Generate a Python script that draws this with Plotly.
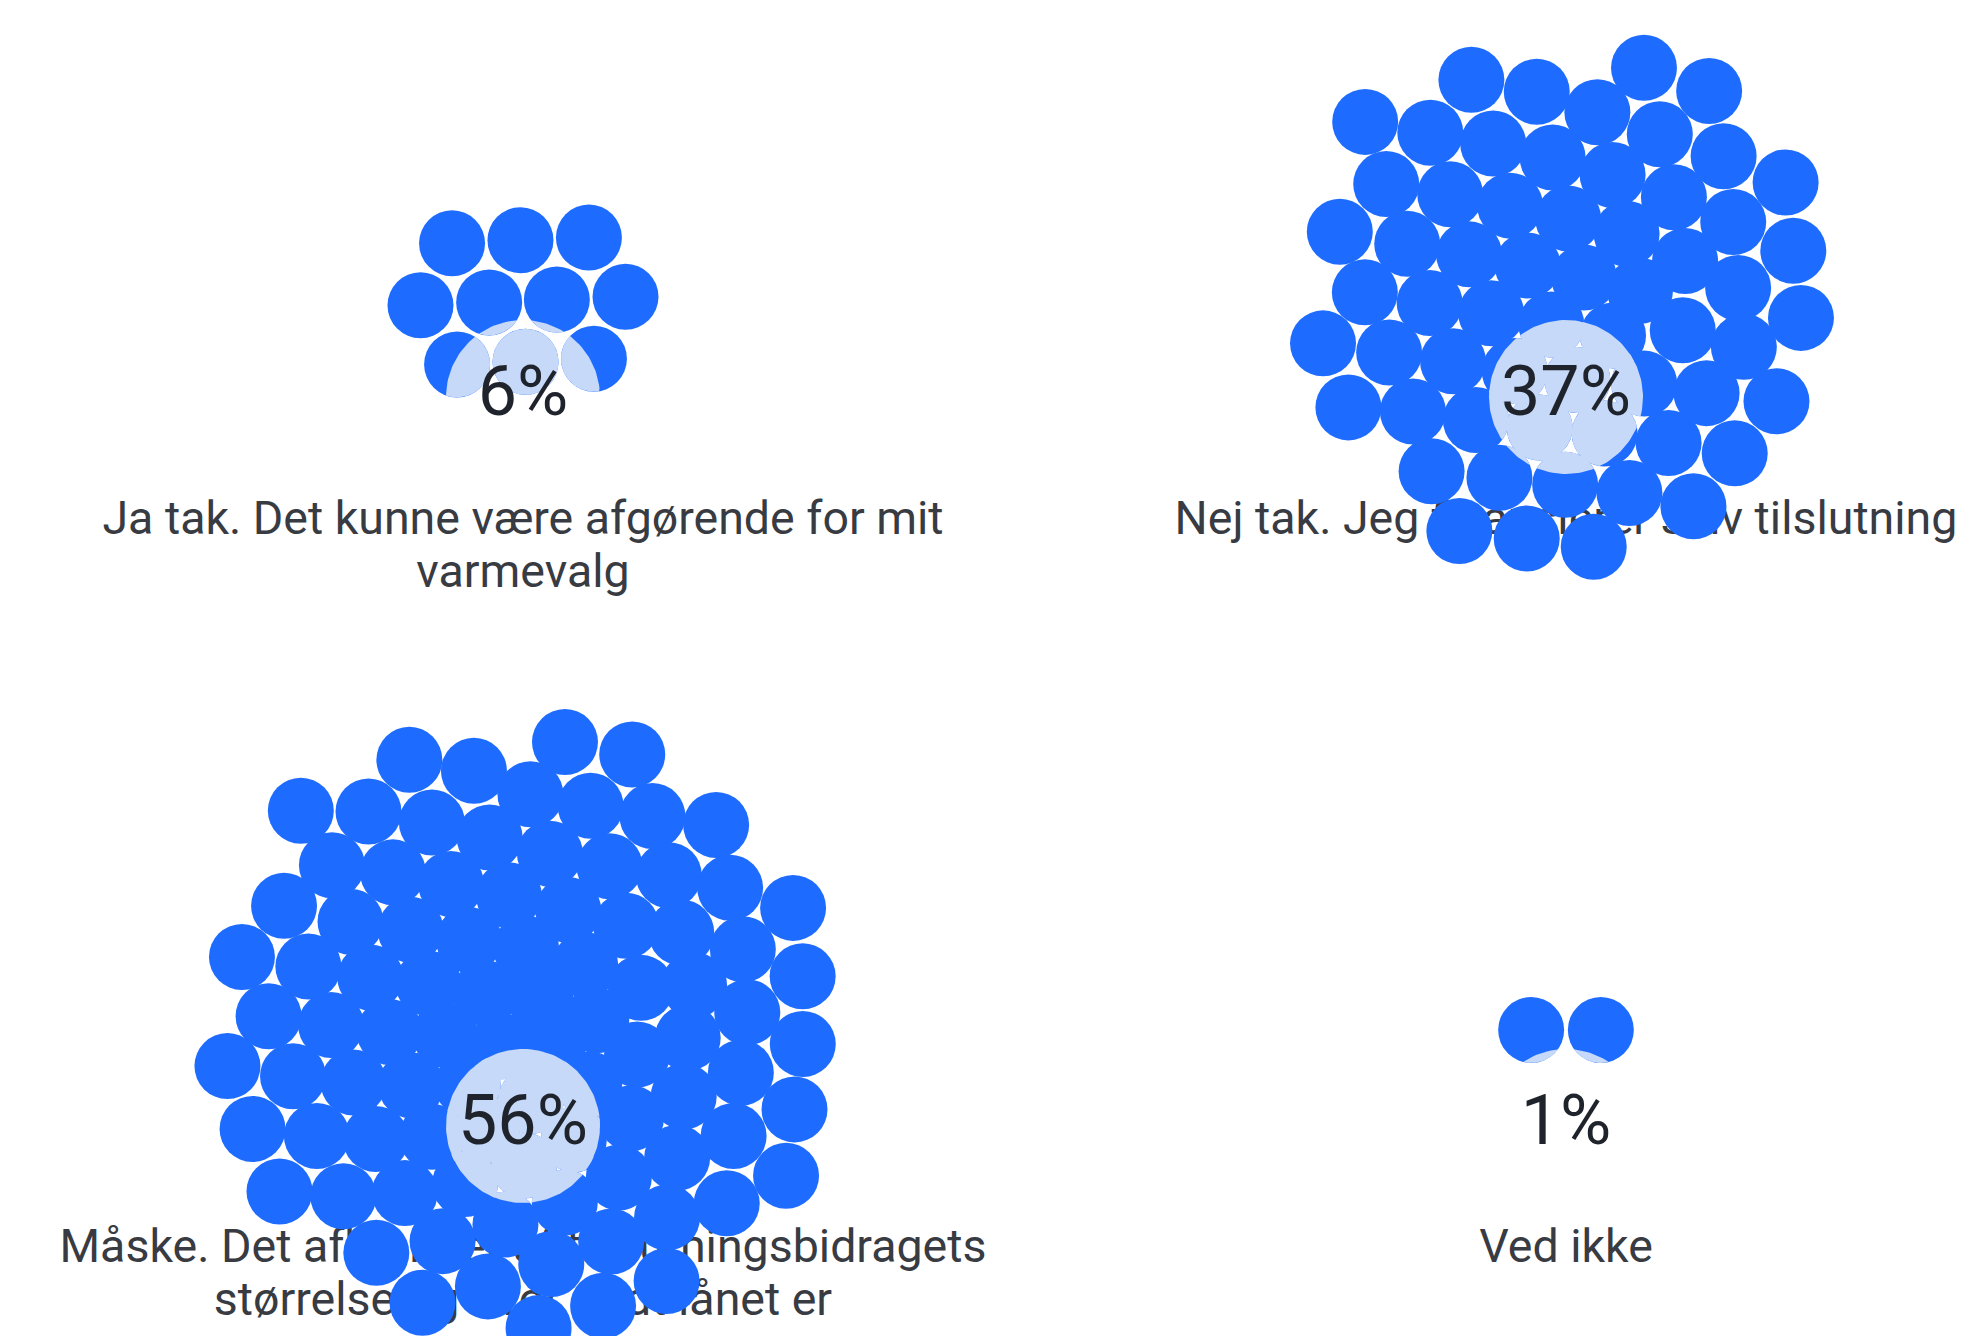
import numpy as np
import plotly.graph_objects as go

# ---------------- data ----------------
categories = [
    "Ja tak. Det kunne være afgørende for mit<br>varmevalg",
    "Nej tak. Jeg finansierer selv tilslutning",
    "Måske. Det afhænger af tilslutningsbidragets<br>størrelse og hvor godt lånet er",
    "Ved ikke",
]
percent_values = [6, 37, 56, 1]
dot_counts = [10, 60, 90, 2]

# ---------------- styling / layout ----------------
W, H = 1967, 1336
DOT_COLOR = "#1e6cff"
LIGHT_COLOR = "#c6d9f8"
PCT_COLOR = "#1f232b"
LABEL_COLOR = "#383b42"
FONT = "Roboto"
DOT_R = 33          # drawn radius (px)
COLLIDE_R = 35.0    # collision radius (px)
DISK_R = 77         # light disk around percentage label
col_x = [523, 1566]
pct_y = [397, 1126]
label_y = [522, 1250]
LINE_H = 53
CLUSTER_DY = -96
PHI0 = 0.4745       # start angle of the spiral seed


def pack(n, cx, cy, rc, iters=900, g=0.011, s=0.7):
    i = np.arange(n)
    ang = PHI0 + i * np.pi * (3 - np.sqrt(5))
    rad = rc * 1.1 * np.sqrt(i + 0.5)
    p = np.stack([cx + rad * np.cos(ang), cy + rad * np.sin(ang)], 1)
    c = np.array([cx, cy])
    for _ in range(iters):
        p += (c - p) * g
        d = p[:, None, :] - p[None, :, :]
        dist = np.sqrt((d ** 2).sum(-1)) + np.eye(n) * 1e9
        overlap = np.clip(2 * rc - dist, 0, None)
        push = d / dist[..., None] * overlap[..., None] * 0.5
        p += push.sum(1) * s
    p += c - p.mean(0)
    return p


def circle_poly(cx, cy, r, k=96):
    t = np.linspace(0, 2 * np.pi, k, endpoint=False)
    return list(zip(cx + r * np.cos(t), cy + r * np.sin(t)))


def clip(subject, clipper):
    def inside(pt, a, b):
        return (b[0] - a[0]) * (pt[1] - a[1]) - (b[1] - a[1]) * (pt[0] - a[0]) >= 0

    def inter(p1, p2, a, b):
        x1, y1 = p1; x2, y2 = p2; x3, y3 = a; x4, y4 = b
        den = (x1 - x2) * (y3 - y4) - (y1 - y2) * (x3 - x4)
        if abs(den) < 1e-12:
            return p2
        t = ((x1 - x3) * (y3 - y4) - (y1 - y3) * (x3 - x4)) / den
        return (x1 + t * (x2 - x1), y1 + t * (y2 - y1))

    out = subject
    for j in range(len(clipper)):
        a, b = clipper[j], clipper[(j + 1) % len(clipper)]
        inp, out = out, []
        if not inp:
            break
        s = inp[-1]
        for e in inp:
            if inside(e, a, b):
                if not inside(s, a, b):
                    out.append(inter(s, e, a, b))
                out.append(e)
            elif inside(s, a, b):
                out.append(inter(s, e, a, b))
            s = e
    return out


fig = go.Figure()

# category labels (drawn beneath the dots)
lx, ly, lt = [], [], []
for k, cat in enumerate(categories):
    cx = col_x[k % 2]
    y0 = label_y[k // 2]
    for j, line in enumerate(cat.split("<br>")):
        lx.append(cx); ly.append(y0 + j * LINE_H); lt.append(line)
fig.add_trace(go.Scatter(x=lx, y=ly, text=lt, mode="text", textposition="middle center",
                         textfont=dict(family=FONT, size=46.5, color=LABEL_COLOR),
                         hoverinfo="skip", showlegend=False))

# dots
clusters = []
for k, n in enumerate(dot_counts):
    cx = col_x[k % 2]
    cy = pct_y[k // 2] + CLUSTER_DY
    pts = pack(n, cx, cy, COLLIDE_R)
    clusters.append(pts)
    fig.add_trace(go.Scatter(x=pts[:, 0], y=pts[:, 1], mode="markers",
                             marker=dict(size=2 * DOT_R, color=DOT_COLOR, line=dict(width=0)),
                             hoverinfo="skip", showlegend=False))

# light lens where dots meet the label disk
for k, pts in enumerate(clusters):
    lx0 = col_x[k % 2]
    ly0 = pct_y[k // 2]
    disk = circle_poly(lx0, ly0, DISK_R, 160)
    for (px, py) in pts:
        if np.hypot(px - lx0, py - ly0) < DISK_R + DOT_R:
            poly = clip(circle_poly(px, py, DOT_R, 120), disk)
            if len(poly) >= 3:
                fx = [q[0] for q in poly] + [poly[0][0]]
                fy = [q[1] for q in poly] + [poly[0][1]]
                fig.add_trace(go.Scatter(x=fx, y=fy, mode="lines", fill="toself",
                                         fillcolor=LIGHT_COLOR, line=dict(width=0, color=LIGHT_COLOR),
                                         hoverinfo="skip", showlegend=False))

# percentage labels
fig.add_trace(go.Scatter(
    x=[col_x[k % 2] for k in range(len(percent_values))],
    y=[pct_y[k // 2] for k in range(len(percent_values))],
    text=[f"{v}%" for v in percent_values], mode="text", textposition="middle center",
    textfont=dict(family=FONT, size=70, color=PCT_COLOR),
    hoverinfo="skip", showlegend=False))

fig.update_layout(
    width=W, height=H, margin=dict(l=0, r=0, t=0, b=0),
    paper_bgcolor="white", plot_bgcolor="white", showlegend=False,
    xaxis=dict(range=[0, W], visible=False, fixedrange=True),
    yaxis=dict(range=[H, 0], visible=False, fixedrange=True),
)

fig.write_html("out.html", config={"displayModeBar": False},
               post_script="document.body.style.margin='0';document.documentElement.style.overflow='hidden';")
